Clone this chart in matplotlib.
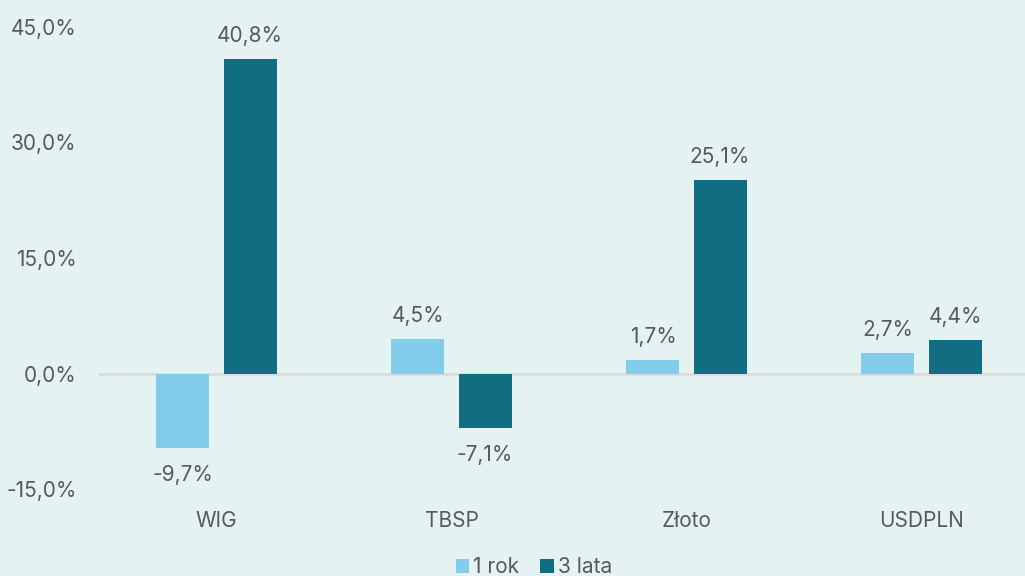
import matplotlib
matplotlib.use("Agg")
import matplotlib.pyplot as plt
import numpy as np
from matplotlib.ticker import FuncFormatter

categories = ["WIG", "TBSP", "Złoto", "USDPLN"]
series_names = ["1 rok", "3 lata"]
rok1 = [-9.7, 4.5, 1.7, 2.7]
lata3 = [40.8, -7.1, 25.1, 4.4]
yticks = [-15, 0, 15, 30, 45]

bg = "#E4F2F2"
c1 = "#83CDEB"
c2 = "#106D82"
txt = "#595959"

plt.rcParams['font.family'] = ['Inter', 'DejaVu Sans']
FS = 15

fig = plt.figure(figsize=(10.25, 5.76), dpi=100, facecolor=bg)
ax = fig.add_axes([99/1025, 1 - 489/576, 940/1025, (489-27)/576])
ax.set_facecolor(bg)

x = np.arange(len(categories))
w = 0.2255
off = 0.1426
b1 = ax.bar(x - off, rok1, w, color=c1, label=series_names[0], zorder=2)
b2 = ax.bar(x + off, lata3, w, color=c2, label=series_names[1], zorder=2)

def fmt(v):
    return f"{v:.1f}".replace(".", ",") + "%"

for bars, vals in ((b1, rok1), (b2, lata3)):
    for rect, v in zip(bars, vals):
        cx = rect.get_x() + rect.get_width() / 2
        if v >= 0:
            ax.annotate(fmt(v), (cx, v), xytext=(0, 16.5), textcoords="offset points",
                        ha="center", va="center", fontsize=FS, color=txt)
        else:
            ax.annotate(fmt(v), (cx, v), xytext=(0, -19), textcoords="offset points",
                        ha="center", va="center", fontsize=FS, color=txt)

ax.axhline(0, color="#D9D9D9", lw=1.8, zorder=1)
ax.set_xlim(-0.5, len(categories) - 0.5)
ax.set_ylim(-15, 45)
ax.set_yticks(yticks)
ax.yaxis.set_major_formatter(FuncFormatter(lambda v, p: fmt(v)))
ax.set_xticks(x)
ax.set_xticklabels(categories)
ax.tick_params(axis="both", length=0, labelsize=FS, labelcolor=txt)
ax.tick_params(axis="x", pad=16)
ax.tick_params(axis="y", pad=16)
for s in ax.spines.values():
    s.set_visible(False)

leg = fig.legend(handles=[b1, b2], labels=series_names, loc="center",
                 bbox_to_anchor=(534/1025, 1 - 567/576), ncol=2, frameon=False,
                 fontsize=FS, labelcolor=txt, handlelength=0.65, handleheight=0.65,
                 handletextpad=0.2, columnspacing=1.0)

fig.savefig("out.png", dpi=100, facecolor=bg)
